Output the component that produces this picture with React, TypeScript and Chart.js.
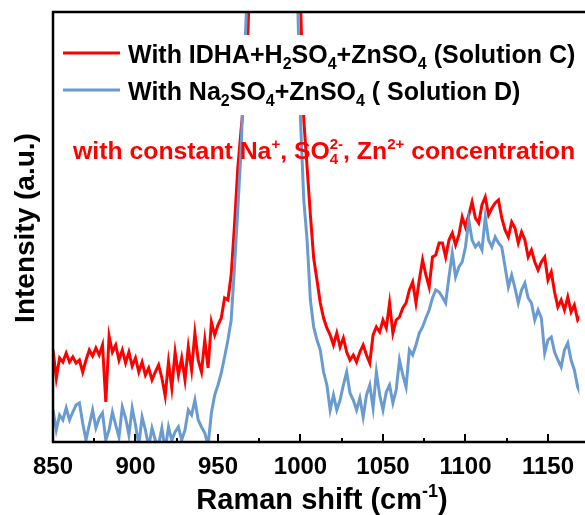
import { useEffect, useRef } from 'react';
import { Chart, registerables } from 'chart.js';

Chart.register(...registerables);

const FONT = '"Liberation Sans", Arial, Helvetica, sans-serif';

// Raman shift (cm-1)
const ramanShift = [
  850, 852, 854, 856, 858, 860, 862, 864, 866, 868, 870, 872, 874, 876, 878, 880, 882, 884, 886, 888,
  890, 892, 894, 896, 898, 900, 902, 904, 906, 908, 910, 912, 914, 916, 918, 920, 922, 924, 926, 928,
  930, 932, 934, 936, 938, 940, 942, 944, 946, 948, 950, 952, 954, 956, 958, 960, 962, 964, 966, 968,
  970, 972, 974, 976, 978, 980, 982, 984, 986, 988, 990, 992, 994, 996, 998, 1000, 1002, 1004, 1006, 1008,
  1010, 1012, 1014, 1016, 1018, 1020, 1022, 1024, 1026, 1028, 1030, 1032, 1034, 1036, 1038, 1040, 1042, 1044, 1046, 1048,
  1050, 1052, 1054, 1056, 1058, 1060, 1062, 1064, 1066, 1068, 1070, 1072, 1074, 1076, 1078, 1080, 1082, 1084, 1086, 1088,
  1090, 1092, 1094, 1096, 1098, 1100, 1102, 1104, 1106, 1108, 1110, 1112, 1114, 1116, 1118, 1120, 1122, 1124, 1126, 1128,
  1130, 1132, 1134, 1136, 1138, 1140, 1142, 1144, 1146, 1148, 1150, 1152, 1154, 1156, 1158, 1160, 1162, 1164, 1166, 1168,
  1170,
];

// Solution C (red)
const solutionC = [
  92, 64, 84, 80, 89, 80, 85, 79, 82, 70, 82, 92, 86, 94, 87, 97, 40, 106, 90, 97,
  82, 92, 79, 90, 76, 84, 70, 80, 67, 74, 62, 70, 77, 64, 46, 80, 54, 90, 67, 84,
  62, 95, 72, 109, 82, 70, 102, 74, 120, 107, 117, 124, 144, 142, 167, 217, 274, 312, 347, 402,
  502, 692, 892, 1142, 1342, 1442, 1492, 1442, 1342, 1192, 992, 822, 672, 552, 472, 442, 322, 275, 227, 184,
  162, 139, 124, 114, 107, 97, 109, 95, 104, 90, 82, 87, 80, 90, 97, 87, 79, 107, 115, 110,
  122, 114, 139, 109, 122, 125, 134, 139, 152, 160, 139, 162, 182, 167, 155, 185, 187, 199, 199, 185,
  202, 209, 197, 207, 225, 215, 227, 240, 224, 219, 237, 245, 227, 234, 239, 242, 224, 212, 205, 220,
  214, 199, 210, 202, 185, 192, 180, 172, 180, 185, 162, 170, 150, 135, 142, 132, 145, 130, 137, 122,
  127,
];

// Solution D (blue)
const solutionD = [
  32, 12, 27, 22, 34, 22, 30, 37, 39, 19, 2, 17, 32, 14, 24, 29, 2, 12, 30, 17,
  5, 35, 24, 7, 34, 17, -3, 25, 12, -5, 14, 2, -3, 14, -8, 15, 2, 10, 15, 2,
  12, 32, 27, 42, 22, 15, 9, -3, 29, 47, 57, 69, 85, 102, 122, 175, 232, 292, 382, 462,
  592, 792, 992, 1242, 1392, 1492, 1522, 1492, 1392, 1242, 1042, 862, 742, 592, 462, 322, 242, 202, 142, 115,
  102, 92, 70, 57, 32, 47, 32, 42, 57, 70, 49, 42, 32, 44, 25, 47, 57, 34, 70, 47,
  32, 50, 57, 39, 52, 82, 67, 55, 92, 87, 97, 109, 115, 124, 132, 144, 152, 150, 145, 139,
  165, 189, 165, 175, 180, 195, 222, 202, 195, 199, 192, 225, 202, 195, 205, 199, 195, 175, 155, 167,
  154, 139, 152, 159, 144, 139, 122, 132, 124, 89, 102, 105, 90, 82, 75, 92, 99, 82, 72, 55,
  47,
];

const seriesLabels = [
  'With IDHA+H_2SO_4+ZnSO_4 (Solution C)',
  'With Na_2SO_4+ZnSO_4 ( Solution D)',
];
const seriesColors = ['#ff0000', '#6a9bd0'];

const majorTicks = [850, 900, 950, 1000, 1050, 1100, 1150];
const minorTicks = [875, 925, 975, 1025, 1075, 1125];

const xTitle = 'Raman shift (cm^{-1})';
const yTitle = 'Intensity (a.u.)';
const note = 'with constant Na^+, SO_4^{2-}, Zn^{2+} concentration';

type Seg = { t: string; k: 'n' | 'sub' | 'sup' };

function parseRich(s: string): Seg[] {
  const out: Seg[] = [];
  let buf = '';
  let i = 0;
  while (i < s.length) {
    const c = s[i];
    if (c === '_' || c === '^') {
      if (buf) {
        out.push({ t: buf, k: 'n' });
        buf = '';
      }
      let txt = '';
      if (s[i + 1] === '{') {
        const j = s.indexOf('}', i + 2);
        txt = s.slice(i + 2, j);
        i = j + 1;
      } else {
        txt = s[i + 1];
        i += 2;
      }
      out.push({ t: txt, k: c === '_' ? 'sub' : 'sup' });
    } else {
      buf += c;
      i++;
    }
  }
  if (buf) out.push({ t: buf, k: 'n' });
  return out;
}

function drawRich(
  ctx: CanvasRenderingContext2D,
  s: string,
  x: number,
  y: number,
  size: number,
  color: string,
  draw = true
): number {
  const segs = parseRich(s);
  const small = Math.round(size * 0.62);
  let cx = x;
  let subStart = -1;
  let subW = 0;
  ctx.fillStyle = color;
  ctx.textBaseline = 'alphabetic';
  ctx.textAlign = 'left';
  segs.forEach((seg, idx) => {
    if (seg.k === 'n') {
      ctx.font = `bold ${size}px ${FONT}`;
      const w = ctx.measureText(seg.t).width;
      if (draw) ctx.fillText(seg.t, cx, y);
      cx += w;
      subStart = -1;
    } else {
      ctx.font = `bold ${small}px ${FONT}`;
      const w = ctx.measureText(seg.t).width;
      const prev = idx > 0 ? segs[idx - 1] : null;
      if (seg.k === 'sup' && prev && prev.k === 'sub' && subStart >= 0) {
        if (draw) ctx.fillText(seg.t, subStart, y - size * 0.42);
        cx = subStart + Math.max(subW, w);
        subStart = -1;
      } else if (seg.k === 'sub') {
        if (draw) ctx.fillText(seg.t, cx, y + size * 0.22);
        subStart = cx;
        subW = w;
        cx += w;
      } else {
        if (draw) ctx.fillText(seg.t, cx, y - size * 0.42);
        cx += w;
        subStart = -1;
      }
    }
  });
  return cx - x;
}

const decorPlugin = {
  id: 'decor',
  afterDatasetsDraw(chart: any) {
    const { ctx, chartArea } = chart;
    const xs = chart.scales.x;
    const { left, top, bottom } = chartArea;
    const right = chart.width;
    ctx.save();
    // frame
    ctx.strokeStyle = '#000';
    ctx.lineWidth = 2.5;
    ctx.beginPath();
    ctx.moveTo(left, bottom);
    ctx.lineTo(left, top);
    ctx.moveTo(left - 1.2, top);
    ctx.lineTo(right, top);
    ctx.moveTo(left - 1.2, bottom);
    ctx.lineTo(right, bottom);
    ctx.stroke();
    // inward ticks
    ctx.lineWidth = 2;
    ctx.beginPath();
    majorTicks.forEach((v) => {
      const px = Math.round(xs.getPixelForValue(v));
      ctx.moveTo(px, bottom);
      ctx.lineTo(px, bottom - 8);
    });
    minorTicks.forEach((v) => {
      const px = Math.round(xs.getPixelForValue(v));
      ctx.moveTo(px, bottom);
      ctx.lineTo(px, bottom - 4);
    });
    ctx.stroke();

    // legend box
    ctx.fillStyle = '#fff';
    ctx.fillRect(58, 35, right - 58, 80);
    const rows = [63, 100];
    chart.data.datasets.forEach((ds: any, i: number) => {
      const by = rows[i];
      ctx.strokeStyle = ds.borderColor;
      ctx.lineWidth = 3;
      ctx.beginPath();
      ctx.moveTo(63, by - 10);
      ctx.lineTo(120, by - 10);
      ctx.stroke();
      drawRich(ctx, ds.label, 128, by, 25, '#000');
    });

    // annotation
    drawRich(ctx, note, 73, 159, 24.8, '#ff0000');
    ctx.restore();
  },
  afterDraw(chart: any) {
    const { ctx, chartArea } = chart;
    ctx.save();
    // x title
    const w = drawRich(ctx, xTitle, 0, 0, 29, '#000', false);
    const cx = 322;
    drawRich(ctx, xTitle, cx - w / 2, 509, 29, '#000');
    // y title
    ctx.translate(34, (chartArea.top + chartArea.bottom) / 2 + 1);
    ctx.rotate(-Math.PI / 2);
    ctx.font = `bold 28px ${FONT}`;
    ctx.fillStyle = '#000';
    ctx.textAlign = 'center';
    ctx.textBaseline = 'alphabetic';
    ctx.fillText(yTitle, 0, 0);
    ctx.restore();
  },
};

export default function App() {
  const ref = useRef<HTMLCanvasElement | null>(null);
  useEffect(() => {
    if (!ref.current) return;
    const chart = new Chart(ref.current, {
      type: 'line',
      data: {
        datasets: [
          {
            label: seriesLabels[0],
            data: ramanShift.map((x, i) => ({ x, y: solutionC[i] })),
            borderColor: seriesColors[0],
            backgroundColor: seriesColors[0],
            borderWidth: 3,
            pointRadius: 0,
            tension: 0,
            order: 2,
          },
          {
            label: seriesLabels[1],
            data: ramanShift.map((x, i) => ({ x, y: solutionD[i] })),
            borderColor: seriesColors[1],
            backgroundColor: seriesColors[1],
            borderWidth: 3,
            pointRadius: 0,
            tension: 0,
            order: 1,
          },
        ],
      },
      options: {
        animation: false,
        responsive: false,
        events: [],
        layout: { padding: { left: 53, top: 12, right: 0, bottom: 0 } },
        plugins: { legend: { display: false }, tooltip: { enabled: false } },
        scales: {
          x: {
            type: 'linear',
            min: 850,
            max: 1169,
            grid: { display: false, drawTicks: false },
            border: { display: false },
            afterBuildTicks: (s: any) => {
              s.ticks = majorTicks.map((v) => ({ value: v }));
            },
            afterFit: (s: any) => {
              s.height = 73;
            },
            ticks: {
              autoSkip: false,
              maxRotation: 0,
              padding: 11,
              color: '#000',
              font: { size: 24, weight: 'bold', family: FONT },
              callback: (v: any) => String(v),
            },
          },
          y: { display: false, min: 0, max: 430 },
        },
      },
      plugins: [decorPlugin],
    } as any);
    return () => chart.destroy();
  }, []);
  return (
    <div style={{ position: 'fixed', left: 0, top: 0, width: 585, height: 515, background: '#fff' }}>
      <canvas ref={ref} width={585} height={515} style={{ display: 'block' }} />
    </div>
  );
}
